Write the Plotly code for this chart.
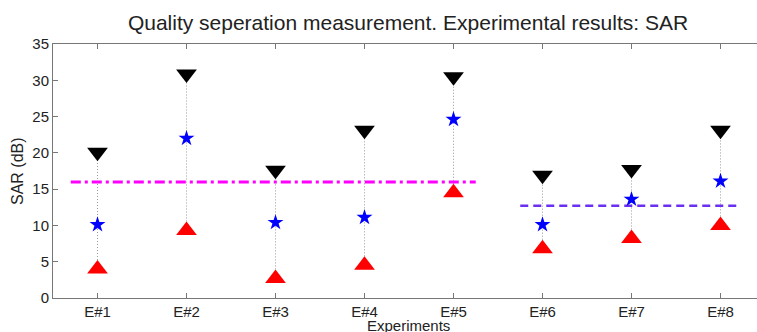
import plotly.graph_objects as go

categories = ["E#1", "E#2", "E#3", "E#4", "E#5", "E#6", "E#7", "E#8"]
upper_vals = [20.1, 30.85, 17.6, 23.1, 30.5, 16.9, 17.7, 23.1]   # black down-triangles
mid_vals = [10.1, 22.0, 10.4, 11.1, 24.6, 10.1, 13.6, 16.1]      # blue stars
lower_vals = [4.0, 9.3, 2.7, 4.5, 14.5, 6.8, 8.2, 10.0]          # red up-triangles
mean_group1 = 16.0
mean_group1_span = [0.7, 5.25]
mean_group2 = 12.7
mean_group2_span = [5.75, 8.19]
y_ticks = [0, 5, 10, 15, 20, 25, 30, 35]

xpos = list(range(1, len(categories) + 1))

fig = go.Figure()

# dotted connectors
cx, cy = [], []
for x, lo, hi in zip(xpos, lower_vals, upper_vals):
    cx += [x, x, None]
    cy += [lo, hi, None]
fig.add_trace(go.Scatter(x=cx, y=cy, mode="lines",
                         line=dict(color="#9a9a9a", width=1, dash="1px,2px"),
                         hoverinfo="skip", showlegend=False))

fig.add_trace(go.Scatter(x=mean_group1_span, y=[mean_group1, mean_group1], mode="lines",
                         line=dict(color="#ff00ff", width=3, dash="10px,4px,3px,4px"),
                         showlegend=False))
fig.add_trace(go.Scatter(x=mean_group2_span, y=[mean_group2, mean_group2], mode="lines",
                         line=dict(color="#6a2ff0", width=2.5, dash="8px,5px"),
                         showlegend=False))

fig.add_trace(go.Scatter(x=xpos, y=upper_vals, mode="markers",
                         marker=dict(symbol="triangle-down", size=18, color="black"),
                         showlegend=False))
fig.add_trace(go.Scatter(x=xpos, y=lower_vals, mode="markers",
                         marker=dict(symbol="triangle-up", size=18, color="#ff0000"),
                         showlegend=False))
fig.add_trace(go.Scatter(x=xpos, y=mid_vals, mode="markers",
                         marker=dict(symbol="star", size=12, color="#0000ff"),
                         showlegend=False))

font_family = "Liberation Sans, Arial, sans-serif"
fig.update_layout(
    width=757, height=332,
    margin=dict(l=53, r=0, t=44, b=34),
    paper_bgcolor="white", plot_bgcolor="white",
    font=dict(family=font_family, size=15, color="#222"),
    title=dict(text="Quality seperation measurement. Experimental results: SAR",
               x=408 / 757, xanchor="center", y=1 - 23 / 332, yanchor="middle",
               font=dict(size=21, color="#222")),
    xaxis=dict(range=[0.5, 0.5 + 704 / 89], tickmode="array", tickvals=xpos,
               ticktext=categories, showgrid=False, zeroline=False,
               showline=True, linecolor="#777", linewidth=1, mirror="ticks",
               ticks="inside", ticklen=5, tickcolor="#777",
               tickfont=dict(size=15, color="#222")),
    yaxis=dict(range=[0, 35], tickvals=y_ticks, showgrid=False, zeroline=False,
               showline=True, linecolor="#777", linewidth=1, mirror=False,
               ticks="inside", ticklen=5, tickcolor="#777",
               tickfont=dict(size=15, color="#222")),
    annotations=[
        dict(text="Experiments", xref="paper", yref="paper", x=(408 - 53) / 704,
             y=-27 / 254, xanchor="center", yanchor="middle", showarrow=False,
             font=dict(size=15, color="#222")),
        dict(text="SAR (dB)", xref="paper", yref="paper", x=-36 / 704, y=0.5,
             xanchor="center", yanchor="middle", textangle=-90, showarrow=False,
             font=dict(size=16, color="#222")),
    ],
)

fig.write_html("out.html")
